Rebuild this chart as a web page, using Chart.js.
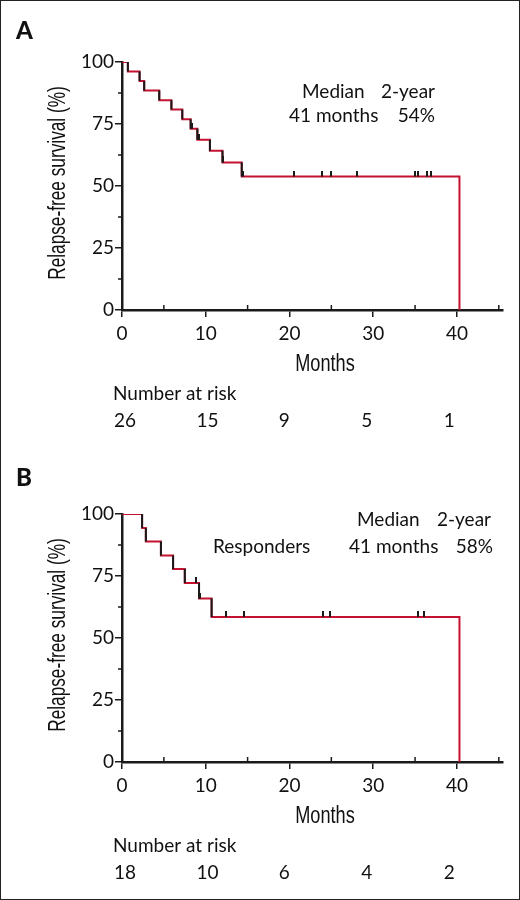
<!DOCTYPE html>
<html>
<head>
<meta charset="utf-8">
<script src="https://cdn.jsdelivr.net/npm/chart.js@4.4.1/dist/chart.umd.min.js"></script>
<style>
  html, body { margin: 0; padding: 0; background: #fff; }
  #page { position: relative; width: 520px; height: 900px; }
  #page canvas { position: absolute; left: 0; }
  #frame { position: absolute; left: 0; top: 0; width: 520px; height: 900px; box-sizing: border-box; border: 1.5px solid #222; pointer-events: none; }
</style>
</head>
<body>
<div id="page">
  <canvas id="panelA" width="520" height="450" style="top:0"></canvas>
  <canvas id="panelB" width="520" height="450" style="top:450px"></canvas>
  <div id="frame"></div>
</div>
<script>
// panel A : all patients
const monthsA = [0, 0.7, 2.1, 2.65, 4.45, 5.9, 7.2, 8.2, 9.0, 10.5, 12.0, 14.3, 40.3];
const survivalA = [100, 96.2, 92.3, 88.5, 84.6, 80.8, 76.9, 73.1, 68.6, 64.2, 59.5, 53.8, 0];
const censoredA = [8.3, 9.2, 12.1, 14.4, 20.5, 23.9, 25.0, 28.1, 35.0, 35.4, 36.4, 36.9];
const atRiskA = [26, 15, 9, 5, 1];

// panel B : responders
const monthsB = [0, 2.4, 2.85, 4.65, 6.1, 7.5, 9.2, 10.7, 40.3];
const survivalB = [100, 94.4, 88.9, 83.3, 77.8, 72.2, 65.9, 58.5, 0];
const censoredB = [8.8, 9.3, 12.4, 14.6, 24.0, 24.8, 35.3, 36.1];
const atRiskB = [18, 10, 6, 4, 2];

const riskMonths = [0, 10, 20, 30, 40];
const xTicks = [0, 10, 20, 30, 40];
const xMinor = [5, 15, 25, 35, 45];
const yTicks = [0, 25, 50, 75, 100];
const yMinor = [12.5, 37.5, 62.5, 87.5];

const RED = '#c41230';
const INK = '#1a1a1a';
const SANS = 'Lato, "Noto Sans", sans-serif';
const NARROW = '"Liberation Sans", Arial, sans-serif'; // squeezed by hand below

// survival value in force at time t
function survAt(months, surv, t) {
  let v = surv[0];
  for (let i = 0; i < months.length; i++) if (months[i] <= t) v = surv[i];
  return v;
}

// small tick pointing up from the curve
const censorMark = document.createElement('canvas');
censorMark.width = 2; censorMark.height = 12;
(function () {
  const c = censorMark.getContext('2d');
  c.fillStyle = INK;
  c.fillRect(0, 0, 2, 6);
})();

function narrowText(ctx, text, x, y, rot, squeeze) {
  ctx.save();
  ctx.translate(x, y);
  if (rot) ctx.rotate(rot);
  ctx.scale(squeeze, 1);
  ctx.font = '23px ' + NARROW;
  ctx.textAlign = 'center';
  ctx.fillText(text, 0, 0);
  ctx.restore();
}

const kmText = {
  id: 'kmText',
  afterDraw(chart, args, o) {
    const { ctx, chartArea, scales } = chart;
    const x = scales.x, y = scales.y;
    ctx.save();
    ctx.strokeStyle = INK;
    ctx.lineWidth = 1.5;
    // minor ticks: x inward, y outward
    xMinor.forEach(v => {
      const px = x.getPixelForValue(v);
      ctx.beginPath(); ctx.moveTo(px, chartArea.bottom); ctx.lineTo(px, chartArea.bottom - 5); ctx.stroke();
    });
    yMinor.forEach(v => {
      const py = y.getPixelForValue(v);
      ctx.beginPath(); ctx.moveTo(chartArea.left, py); ctx.lineTo(chartArea.left - 4, py); ctx.stroke();
    });

    ctx.fillStyle = '#111';
    ctx.textBaseline = 'alphabetic';
    // panel letter
    ctx.font = '900 24px ' + SANS;
    ctx.textAlign = 'left';
    ctx.fillText(o.letter, 16, o.letterY);

    // axis titles
    narrowText(ctx, 'Relapse-free survival (%)', 65, (chartArea.top + chartArea.bottom) / 2 - 3, -Math.PI / 2, 0.75);
    narrowText(ctx, 'Months', 325, chartArea.bottom + 61, 0, 0.79);

    // legend text
    ctx.font = '19px ' + SANS;
    o.lines.forEach(l => {
      ctx.textAlign = l.align;
      ctx.fillText(l.text, l.x, chartArea.top + l.dy);
    });

    // number at risk
    ctx.textAlign = 'left';
    ctx.fillText('Number at risk', 113, chartArea.bottom + 90);
    o.atRisk.forEach((n, i) => {
      const t = riskMonths[i];
      ctx.fillText(String(n), x.getPixelForValue(t) - 8 - 0.13 * t, chartArea.bottom + 117);
    });
    ctx.restore();
  }
};

function makeChart(id, months, surv, censored, atRisk, top, letter, letterY, lines) {
  const curve = months.map((m, i) => ({ x: m, y: surv[i] }));
  const drops = [];
  for (let i = 1; i < months.length - 1; i++) {
    drops.push({ x: months[i], y: surv[i - 1] }, { x: months[i], y: surv[i] }, { x: months[i], y: null });
  }
  const marks = censored.map(t => ({ x: t, y: survAt(months, surv, t) }));

  return new Chart(document.getElementById(id).getContext('2d'), {
    type: 'line',
    data: {
      datasets: [
        { data: marks, showLine: false, pointStyle: censorMark, pointRadius: 6, order: 0 },
        { data: drops, borderColor: INK, borderWidth: 2, pointRadius: 0, spanGaps: false, order: 1 },
        { data: curve, borderColor: RED, borderWidth: 2, pointRadius: 0, stepped: 'before', order: 2 }
      ]
    },
    options: {
      responsive: false,
      animation: false,
      layout: { padding: { top: top, right: 17, bottom: 140 - 40 - (top - 62), left: 0 } },
      plugins: { legend: { display: false }, tooltip: { enabled: false },
        kmText: { letter: letter, letterY: letterY, lines: lines, atRisk: atRisk } },
      scales: {
        x: {
          type: 'linear', min: 0, max: 45.5,
          afterBuildTicks: s => { s.ticks = xTicks.map(v => ({ value: v })); },
          afterFit: s => { s.height = 40; },
          grid: { drawOnChartArea: false, tickLength: 7, color: INK, lineWidth: 1.5 },
          border: { color: INK, width: 2.5 },
          ticks: { font: { family: SANS, size: 19 }, color: '#111', padding: 5, maxRotation: 0 }
        },
        y: {
          type: 'linear', min: 0, max: 100,
          afterBuildTicks: s => { s.ticks = yTicks.map(v => ({ value: v })); },
          afterFit: s => { s.width = 122; },
          grid: { drawOnChartArea: false, tickLength: 7, color: INK, lineWidth: 1.5 },
          border: { color: INK, width: 2.5 },
          ticks: { font: { family: SANS, size: 19 }, color: '#111', padding: 1 }
        }
      }
    },
    plugins: [kmText]
  });
}

makeChart('panelA', monthsA, survivalA, censoredA, atRiskA, 62, 'A', 39, [
  { text: 'Median', x: 302, dy: 36, align: 'left' },
  { text: '2-year', x: 435, dy: 36, align: 'right' },
  { text: '41 months', x: 289, dy: 60, align: 'left' },
  { text: '54%', x: 435, dy: 60, align: 'right' }
]);

makeChart('panelB', monthsB, survivalB, censoredB, atRiskB, 64, 'B', 36, [
  { text: 'Median', x: 357, dy: 12, align: 'left' },
  { text: '2-year', x: 491, dy: 12, align: 'right' },
  { text: 'Responders', x: 213, dy: 39, align: 'left' },
  { text: '41 months', x: 349, dy: 39, align: 'left' },
  { text: '58%', x: 493, dy: 39, align: 'right' }
]);
</script>
</body>
</html>
